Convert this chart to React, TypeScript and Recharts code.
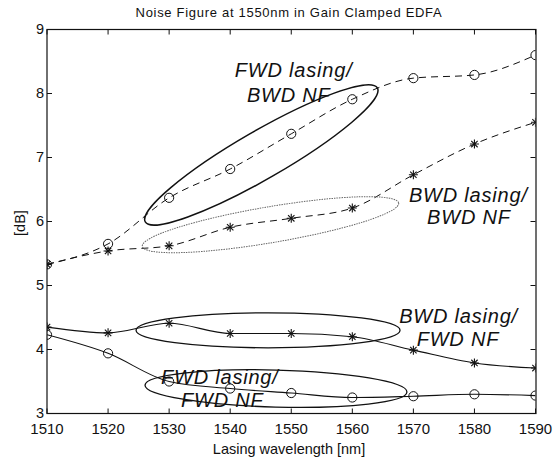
import React from 'react';
import { LineChart, Line, XAxis, YAxis, ReferenceDot } from 'recharts';

// ---- data ----
const wavelengths = [1510, 1520, 1530, 1540, 1550, 1560, 1570, 1580, 1590];
const fwdLasingBwdNF = [5.33, 5.65, 6.37, 6.82, 7.37, 7.91, 8.24, 8.29, 8.6];
const bwdLasingBwdNF = [5.33, 5.54, 5.62, 5.91, 6.05, 6.21, 6.73, 7.21, 7.55];
const bwdLasingFwdNF = [4.35, 4.26, 4.41, 4.25, 4.25, 4.2, 3.99, 3.79, 3.71];
const fwdLasingFwdNF = [4.23, 3.94, 3.5, 3.39, 3.32, 3.25, 3.27, 3.3, 3.28];
const xTicks = [1510, 1520, 1530, 1540, 1550, 1560, 1570, 1580, 1590];
const yTicks = [3, 4, 5, 6, 7, 8, 9];

const titleText = 'Noise Figure at 1550nm in Gain Clamped EDFA';
const xTitle = 'Lasing wavelength [nm]';
const yTitle = '[dB]';

// annotation ellipses (center in data units)
const ellipseCentersX = [1545.1, 1546.6, 1546.2, 1547.5];
const ellipseCentersY = [7.04, 5.95, 4.3, 3.39];
// annotation text lines (anchor in data units)
const noteTexts = ['FWD lasing/', 'BWD NF', 'BWD lasing/', 'BWD NF', 'BWD lasing/', 'FWD NF', 'FWD lasing/', 'FWD NF'];
const noteX = [1550.4, 1549.6, 1579.0, 1579.1, 1577.4, 1577.3, 1538.3, 1538.7];
const noteY = [8.36, 7.98, 6.42, 6.07, 4.53, 4.16, 3.566, 3.21];

const data = wavelengths.map((wl, i) => ({
  wl,
  fb: fwdLasingBwdNF[i],
  bb: bwdLasingBwdNF[i],
  bf: bwdLasingFwdNF[i],
  ff: fwdLasingFwdNF[i],
}));

// ---- styles ----
const FONT = '"Liberation Sans", Arial, Helvetica, sans-serif';
const INK = '#111';
const ellipseStyles = [
  { rx: 134, ry: 24, angle: -30, stroke: '#111', width: 1.5, dash: undefined as string | undefined },
  { rx: 130, ry: 18, angle: -9.6, stroke: '#666', width: 1, dash: '1.5 1' },
  { rx: 132, ry: 17.5, angle: 0, stroke: '#111', width: 1.3, dash: undefined },
  { rx: 131, ry: 18.5, angle: 1.5, stroke: '#111', width: 1.3, dash: undefined },
];

const CircleDot = (p: any) => {
  if (p.cx == null || p.cy == null) return <g key={p.index} />;
  return <circle key={`c${p.index}`} cx={p.cx} cy={p.cy} r={4.6} fill="none" stroke={INK} strokeWidth={1} />;
};
const StarDot = (p: any) => {
  if (p.cx == null || p.cy == null) return <g key={p.index} />;
  const { cx, cy } = p;
  const s = 4.5;
  const d = 3.2;
  return (
    <g key={`s${p.index}`} stroke={INK} strokeWidth={1.1}>
      <line x1={cx - s} y1={cy} x2={cx + s} y2={cy} />
      <line x1={cx} y1={cy - s} x2={cx} y2={cy + s} />
      <line x1={cx - d} y1={cy - d} x2={cx + d} y2={cy + d} />
      <line x1={cx - d} y1={cy + d} x2={cx + d} y2={cy - d} />
    </g>
  );
};

const BottomTick = (p: any) => (
  <g>
    <line x1={p.x} y1={p.y} x2={p.x} y2={p.y - 5} stroke={INK} strokeWidth={1} />
    <text x={p.x} y={p.y + 20} textAnchor="middle" fontSize={15} fontFamily={FONT} fill={INK}>
      {p.payload.value}
    </text>
  </g>
);
const TopTick = (p: any) => (
  <line x1={p.x} y1={p.y} x2={p.x} y2={p.y + 5} stroke={INK} strokeWidth={1} />
);
const LeftTick = (p: any) => (
  <g>
    <line x1={p.x} y1={p.y} x2={p.x + 5} y2={p.y} stroke={INK} strokeWidth={1} />
    <text x={p.x - 3} y={p.y + 4} textAnchor="end" fontSize={14.5} fontFamily={FONT} fill={INK}>
      {p.payload.value}
    </text>
  </g>
);
const RightTick = (p: any) => (
  <line x1={p.x} y1={p.y} x2={p.x - 5} y2={p.y} stroke={INK} strokeWidth={1} />
);

export default function App() {
  return (
    <div style={{ position: 'absolute', left: 0, top: 0, width: 554, height: 459, background: '#fff' }}>
      <div
        style={{
          position: 'absolute',
          left: 0,
          width: 578,
          top: 5,
          textAlign: 'center',
          fontFamily: FONT,
          fontSize: 13,
          letterSpacing: 0.7,
          color: INK,
          lineHeight: '16px',
          whiteSpace: 'nowrap',
        }}
      >
        {titleText}
      </div>
      <div
        style={{
          position: 'absolute',
          left: 0,
          width: 578,
          top: 440,
          textAlign: 'center',
          fontFamily: FONT,
          fontSize: 14.5,
          color: INK,
          lineHeight: '18px',
          whiteSpace: 'nowrap',
        }}
      >
        {xTitle}
      </div>
      <div
        style={{
          position: 'absolute',
          left: 20 - 30,
          top: 223 - 9,
          width: 60,
          textAlign: 'center',
          fontFamily: FONT,
          fontSize: 14.5,
          color: INK,
          lineHeight: '18px',
          transform: 'rotate(-90deg)',
        }}
      >
        {yTitle}
      </div>
      <div style={{ position: 'absolute', left: 0, top: 0 }}>
        <LineChart
          width={554}
          height={459}
          data={data}
          margin={{ top: 28.5, right: 17.5, bottom: 44.5, left: 46 }}
        >
          <XAxis
            xAxisId="b"
            dataKey="wl"
            type="number"
            domain={[1510, 1590]}
            ticks={xTicks}
            height={1}
            tickSize={0}
            tickMargin={0}
            tick={<BottomTick />}
            axisLine={{ stroke: INK, strokeWidth: 1.2 }}
            tickLine={false}
            allowDataOverflow
          />
          <XAxis
            xAxisId="t"
            orientation="top"
            dataKey="wl"
            type="number"
            domain={[1510, 1590]}
            ticks={xTicks}
            height={1}
            tickSize={0}
            tickMargin={0}
            tick={<TopTick />}
            axisLine={false}
            tickLine={false}
            allowDataOverflow
          />
          <YAxis
            yAxisId="l"
            type="number"
            domain={[3, 9]}
            ticks={yTicks}
            width={1}
            tickSize={0}
            tickMargin={0}
            tick={<LeftTick />}
            axisLine={false}
            tickLine={false}
            allowDataOverflow
          />
          <YAxis
            yAxisId="r"
            orientation="right"
            type="number"
            domain={[3, 9]}
            ticks={yTicks}
            width={1}
            tickSize={0}
            tickMargin={0}
            tick={<RightTick />}
            axisLine={false}
            tickLine={false}
            allowDataOverflow
          />

          {/* frame drawn through reference dots at the domain corners */}
          <ReferenceDot
            xAxisId="b"
            yAxisId="l"
            x={1510}
            y={9}
            r={1}
            ifOverflow="visible"
            shape={(p: any) => (
              <rect
                x={p.cx}
                y={p.cy}
                width={489}
                height={384}
                fill="none"
                stroke={INK}
                strokeWidth={1.2}
              />
            )}
          />

          {ellipseCentersX.map((ex, i) => {
            const st = ellipseStyles[i];
            return (
              <ReferenceDot
                key={`e${i}`}
                xAxisId="b"
                yAxisId="l"
                x={ex}
                y={ellipseCentersY[i]}
                r={1}
                ifOverflow="visible"
                shape={(p: any) => (
                  <ellipse
                    cx={p.cx}
                    cy={p.cy}
                    rx={st.rx}
                    ry={st.ry}
                    fill="none"
                    stroke={st.stroke}
                    strokeWidth={st.width}
                    strokeDasharray={st.dash}
                    transform={`rotate(${st.angle} ${p.cx} ${p.cy})`}
                  />
                )}
              />
            );
          })}

          <Line xAxisId="b" yAxisId="l" type="monotone" dataKey="fb" stroke={INK} strokeWidth={1} strokeDasharray="7 5" dot={CircleDot} isAnimationActive={false} />
          <Line xAxisId="b" yAxisId="l" type="monotone" dataKey="bb" stroke={INK} strokeWidth={1} strokeDasharray="7 5" dot={StarDot} isAnimationActive={false} />
          <Line xAxisId="b" yAxisId="l" type="monotone" dataKey="bf" stroke={INK} strokeWidth={1.1} dot={StarDot} isAnimationActive={false} />
          <Line xAxisId="b" yAxisId="l" type="monotone" dataKey="ff" stroke={INK} strokeWidth={1.1} dot={CircleDot} isAnimationActive={false} />

          {noteTexts.map((t, i) => (
            <ReferenceDot
              key={`n${i}`}
              xAxisId="b"
              yAxisId="l"
              x={noteX[i]}
              y={noteY[i]}
              r={1}
              ifOverflow="visible"
              shape={(p: any) => (
                <text
                  x={p.cx}
                  y={p.cy + 7}
                  textAnchor="middle"
                  fontSize={20}
                  letterSpacing={0.8}
                  fontStyle="italic"
                  fontFamily={FONT}
                  fill={INK}
                >
                  {t}
                </text>
              )}
            />
          ))}
        </LineChart>
      </div>
    </div>
  );
}
